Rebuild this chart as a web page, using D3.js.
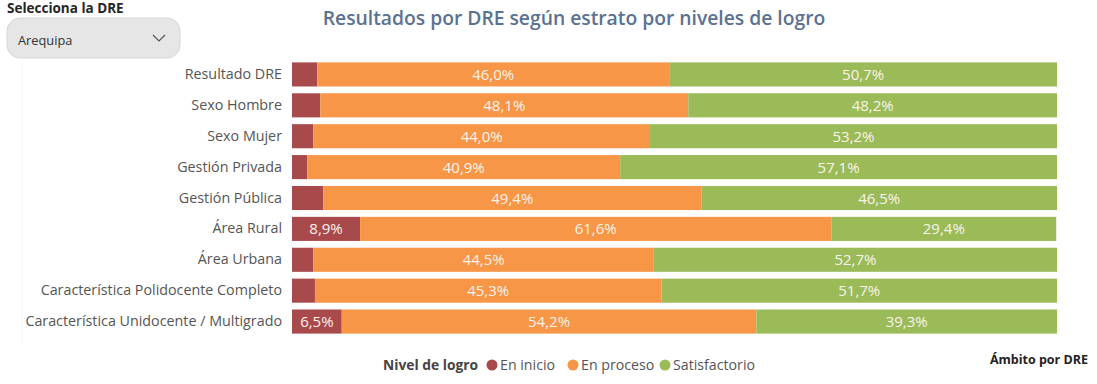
<!DOCTYPE html>
<html>
<head>
<meta charset="utf-8">
<script src="https://cdn.jsdelivr.net/npm/d3@7"></script>
<style>
  body { margin: 0; background: #fff; }
  svg { display: block; font-family: "Open Sans", sans-serif; }
</style>
</head>
<body>
<svg id="chart" width="1097" height="384"></svg>
<script>
var categories = ["Resultado DRE", "Sexo Hombre", "Sexo Mujer", "Gestión Privada", "Gestión Pública",
  "Área Rural", "Área Urbana", "Característica Polidocente Completo", "Característica Unidocente / Multigrado"];
var enInicio    = [3.3, 3.7, 2.8, 2.0, 4.1, 8.9, 2.8, 3.0, 6.5];
var enProceso   = [46.0, 48.1, 44.0, 40.9, 49.4, 61.6, 44.5, 45.3, 54.2];
var satisfactorio = [50.7, 48.2, 53.2, 57.1, 46.5, 29.4, 52.7, 51.7, 39.3];
var seriesNames = ["En inicio", "En proceso", "Satisfactorio"];
var colors = ["#a84a4c", "#f79646", "#9bbb59"];

var rows = categories.map(function (c, i) {
  return { cat: c, "En inicio": enInicio[i], "En proceso": enProceso[i], "Satisfactorio": satisfactorio[i] };
});

var svg = d3.select("#chart");

// faint panel line
svg.append("line").attr("x1", 22).attr("x2", 22).attr("y1", 58).attr("y2", 345)
   .attr("stroke", "#f7f7f7").attr("stroke-width", 1);

// dropdown
svg.append("text").attr("x", 7).attr("y", 13).text("Selecciona la DRE")
   .attr("font-size", 13.5).attr("font-weight", "bold").attr("fill", "#252525");
svg.append("rect").attr("x", 7).attr("y", 18).attr("width", 173).attr("height", 40).attr("rx", 13)
   .attr("fill", "#e6e6e6").attr("stroke", "#d6d6d6");
svg.append("text").attr("x", 18).attr("y", 45).text("Arequipa")
   .attr("font-size", 12.8).attr("fill", "#333");
svg.append("polyline").attr("points", "153,35 159,41 165,35")
   .attr("fill", "none").attr("stroke", "#555").attr("stroke-width", 1.2);

// title
svg.append("text").attr("x", 574).attr("y", 25).attr("text-anchor", "middle")
   .text("Resultados por DRE según estrato por niveles de logro")
   .attr("font-size", 19.3).attr("font-weight", 600).attr("fill", "#5b7191");

var x = d3.scaleLinear().domain([0, 100]).range([292, 1057]);
var y = d3.scaleBand().domain(categories).range([59, 337]).paddingInner(0.22).paddingOuter(0.11);

var stack = d3.stack().keys(seriesNames);
var layers = stack(rows);

var g = svg.append("g");
var layer = g.selectAll("g.layer").data(layers).enter().append("g")
   .attr("fill", function (d, i) { return colors[i]; });

layer.selectAll("rect").data(function (d) { return d; }).enter().append("rect")
   .attr("x", function (d) { return x(d[0]); })
   .attr("y", function (d) { return y(d.data.cat); })
   .attr("width", function (d) { return x(d[1]) - x(d[0]); })
   .attr("height", y.bandwidth());

layer.selectAll("text").data(function (d) { return d.filter(function (p) { return p[1] - p[0] > 5; }); })
   .enter().append("text")
   .attr("x", function (d) { return (x(d[0]) + x(d[1])) / 2; })
   .attr("y", function (d) { return y(d.data.cat) + y.bandwidth() / 2 + 5.5; })
   .attr("text-anchor", "middle")
   .attr("font-size", 15)
   .attr("fill", "#f8f3ea")
   .text(function (d) { return (d[1] - d[0]).toFixed(1).replace(".", ",") + "%"; });

// category labels
var yAxis = d3.axisLeft(y).tickSize(0).tickPadding(10);
var ax = svg.append("g").attr("transform", "translate(292,0)").call(yAxis);
ax.select(".domain").remove();
ax.selectAll("text").attr("font-size", 14.3).attr("fill", "#555")
   .attr("font-family", "'Open Sans', sans-serif");

// legend
var lg = svg.append("g").attr("transform", "translate(383,370)");
lg.append("text").text("Nivel de logro").attr("font-size", 13.8).attr("font-weight", "bold").attr("fill", "#444");
var lx = [109, 190, 282];
seriesNames.forEach(function (s, i) {
  lg.append("circle").attr("cx", lx[i]).attr("cy", -5).attr("r", 5.5).attr("fill", colors[i]);
  lg.append("text").attr("x", lx[i] + 8).attr("y", 0).text(s).attr("font-size", 14.2).attr("fill", "#555");
});

svg.append("text").attr("x", 1088).attr("y", 364).attr("text-anchor", "end").text("Ámbito por DRE")
   .attr("font-size", 12.5).attr("font-weight", "bold").attr("fill", "#222");
</script>
</body>
</html>
